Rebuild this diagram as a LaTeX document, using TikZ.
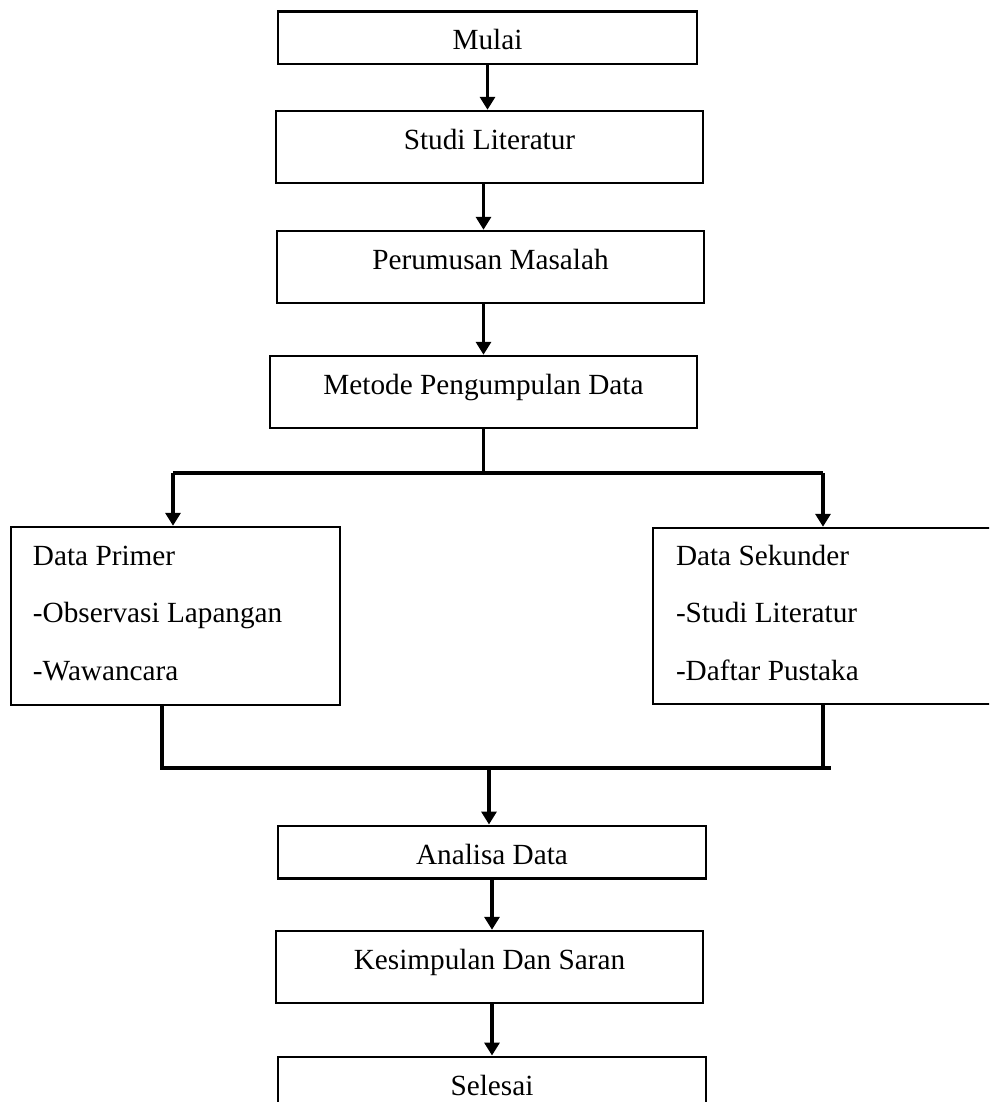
\documentclass[tikz,border=0pt]{standalone}
\usepackage{fontspec}
\setmainfont{Liberation Serif}
\usetikzlibrary{arrows.meta}
\begin{document}
\begin{tikzpicture}[x=0.4pt,y=-0.4pt,
  flowbox/.style={draw, line width=1pt, rectangle, inner sep=0pt, font=\fontsize{11.7pt}{14pt}\selectfont},
  shortbox/.style={flowbox, minimum height=21pt, text height=9.6pt, text depth=0pt},
  tallbox/.style={flowbox, minimum height=28.8pt, text height=8pt, text depth=6.2pt},
  databox/.style={draw, line width=1pt, rectangle, align=flush left, font=\fontsize{11.7pt}{23pt}\selectfont, text height=5.5pt, inner ysep=0pt},
  conn/.style={line width=1.4pt},
  arr/.style={conn, -{Triangle[length=5.2pt,width=6pt]}}]
\useasboundingbox (0,0) rectangle (989,1102);
\clip (0,0) rectangle (989,1102);

\node[shortbox, minimum width=167.6pt] (mulai) at (487.5,37.5) {Mulai};
\node[tallbox, minimum width=170.8pt] (studi) at (489.5,147) {Studi Literatur};
\node[tallbox, minimum width=170.8pt] (rumus) at (490.5,267) {Perumusan Masalah};
\node[tallbox, minimum width=170.8pt] (metode) at (483.5,392) {Metode Pengumpulan Data};
\node[databox, minimum width=131.6pt, minimum height=71.2pt, text width=114pt, inner xsep=8.8pt] (primer) at (175.5,616) {Data Primer\\-Observasi Lapangan\\-Wawancara};
\node[databox, minimum width=140pt, minimum height=70.4pt, text width=121.6pt, inner xsep=9.2pt] (sekunder) at (828,616) {Data Sekunder\\-Studi Literatur\\-Daftar Pustaka};
\node[shortbox, minimum width=171.2pt] (analisa) at (492,852) {Analisa Data};
\node[tallbox, minimum width=170.8pt] (simpul) at (489.5,967) {Kesimpulan Dan Saran};
\node[shortbox, minimum width=171.2pt] (selesai) at (492,1083) {Selesai};

\coordinate (sL) at (173,473);
\coordinate (sR) at (823,473);
\coordinate (sM) at (483.5,473);
\coordinate (jL) at (162,768);
\coordinate (jR) at (831,768);
\coordinate (jR2) at (823,768);
\coordinate (jM) at (489,768);

\draw[arr] (mulai.south) -- (mulai.south |- studi.north);
\draw[arr] (studi.south -| metode) -- (metode |- rumus.north);
\draw[arr] (rumus.south -| metode) -- (metode.north);
\draw[conn] (metode.south) -- (sM);
\draw[conn] (sL) -- (sR);
\draw[arr] (sL) -- (sL |- primer.north);
\draw[arr] (sR) -- (sR |- sekunder.north);
\draw[conn] (primer.south -| jL) -- (jL) -- (jR);
\draw[conn] (sekunder.south -| jR2) -- (jR2);
\draw[arr] (jM) -- (jM |- analisa.north);
\draw[arr] (analisa.south) -- (analisa.south |- simpul.north);
\draw[arr] (simpul.south -| selesai) -- (selesai.north);
\end{tikzpicture}
\end{document}
